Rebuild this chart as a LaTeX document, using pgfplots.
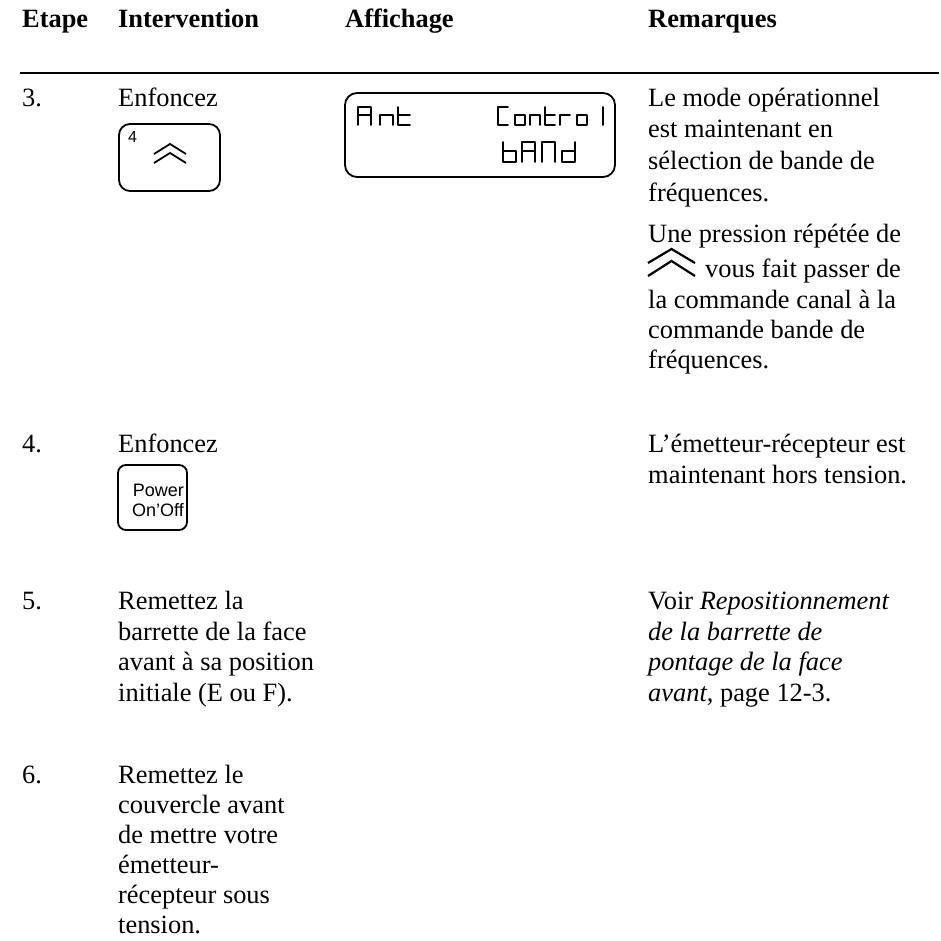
\documentclass[border=0pt]{standalone}
\usepackage{fontspec}
\setmainfont{Liberation Serif}
\newfontfamily\arial{Liberation Sans}
\usepackage{pgfplots}
\pgfplotsset{compat=1.18}
\tikzset{
  txt/.style={anchor=base west, inner sep=0pt, font=\fontsize{26.4}{30}\selectfont},
  hdr/.style={anchor=base west, inner sep=0pt, font=\fontsize{26.4}{30}\selectfont\bfseries},
  lcd/.style={line width=1.7pt, line cap=round, line join=round},
}
% LCD glyph paths
\def\lcdpathA{(\xa,\ya)--(\xa,\yt)--(\xb,\yt)--(\xb,\ya) (\xa,\ym)--(\xb,\ym)}
\def\lcdpathn{(\xa,\ya)--(\xa,\ym)--(\xb,\ym)--(\xb,\ya)}
\def\lcdpatht{(\xa,\yt)--(\xa,\ya)--(\xb,\ya) (\xa,\ym)--(\xb,\ym)}
\def\lcdpathC{(\xb,\yt)--(\xa,\yt)--(\xa,\ya)--(\xb,\ya)}
\def\lcdpatho{(\xa,\ya)--(\xa,\ym)--(\xb,\ym)--(\xb,\ya)--cycle}
\def\lcdpathr{(\xa,\ya)--(\xa,\ym)--(\xb,\ym)}
\def\lcdpathl{(\xa,\ya)--(\xa,\yt)}
\def\lcdpathb{(\xa,\yt)--(\xa,\ya)--(\xb,\ya)--(\xb,\ym)--(\xa,\ym)}
\def\lcdpathN{(\xa,\ya)--(\xa,\yt)--(\xb,\yt)--(\xb,\ya)}
\def\lcdpathd{(\xb,\yt)--(\xb,\ya)--(\xa,\ya)--(\xa,\ym)--(\xb,\ym)}
\newcommand\lcdglyph[3]{%
  \pgfmathsetmacro\xa{#2}\pgfmathsetmacro\xb{#2+\gw}%
  \pgfmathsetmacro\ya{#3}\pgfmathsetmacro\yt{#3-\gh}\pgfmathsetmacro\ym{#3-\gm}%
  \edef\tmp{\noexpand\draw[lcd] \csname lcdpath#1\endcsname;}\tmp}
\begin{document}
\begin{tikzpicture}
\begin{axis}[hide axis, scale only axis, width=939pt, height=941pt,
  xmin=0, xmax=939, ymin=0, ymax=941, y dir=reverse, clip=false]
\addplot[draw=none, mark=none] coordinates {(0,0) (939,941)};
\path (0,0) rectangle (939,941);
% header
\node[hdr] at (22,28) {Etape};
\node[hdr] at (118,28) {Intervention};
\node[hdr] at (345,28) {Affichage};
\node[hdr] at (648,28) {Remarques};
\draw[line width=2.5pt] (20,73) -- (939,73);
% row 3
\node[txt] at (22,107) {3.};
\node[txt] at (118,107) {Enfoncez};
\draw[line width=1.8pt, rounded corners=11pt] (119,124) rectangle (220,191);
\node[anchor=base west, inner sep=0pt, font=\arial\fontsize{16}{16}\selectfont] at (128,143) {4};
\draw[line width=1.8pt] (154,154)--(170,144)--(186,154) (154,163)--(170,153)--(186,163);
\draw[line width=1.8pt, rounded corners=12pt] (345,93) rectangle (615,177);
\def\gh{18}\def\gm{10}\def\gw{13}
\lcdglyph{A}{358}{125}
\lcdglyph{n}{380}{125}
\def\gw{12}
\lcdglyph{t}{398}{125}
\def\gw{10}
\lcdglyph{C}{498}{125}
\lcdglyph{o}{515}{125}
\lcdglyph{n}{530}{125}
\lcdglyph{t}{545}{125}
\lcdglyph{r}{560}{125}
\lcdglyph{o}{577}{125}
\lcdglyph{l}{603}{125}
\def\gh{20}\def\gm{11}\def\gw{13}
\lcdglyph{b}{503}{162}
\lcdglyph{A}{522}{162}
\lcdglyph{N}{542}{162}
\lcdglyph{d}{562}{162}
\node[txt] at (648,107) {Le mode opérationnel};
\node[txt] at (648,138) {est maintenant en};
\node[txt] at (648,170) {sélection de bande de};
\node[txt] at (648,202) {fréquences.};
\node[txt] at (648,243) {Une pression répétée de};
\draw[line width=2.2pt] (648,263)--(671.5,249)--(695,263) (648,276)--(671.5,261)--(695,276);
\node[txt] at (705,277) {vous fait passer de};
\node[txt] at (648,308) {la commande canal à la};
\node[txt] at (648,338) {commande bande de};
\node[txt] at (648,368) {fréquences.};
% row 4
\node[txt] at (22,452) {4.};
\node[txt] at (118,452) {Enfoncez};
\draw[line width=1.8pt, rounded corners=8pt] (118,465) rectangle (187,530);
\node[anchor=base east, inner sep=0pt, font=\arial\fontsize{18}{18}\selectfont] at (184,496) {Power};
\node[anchor=base east, inner sep=0pt, font=\arial\fontsize{18}{18}\selectfont] at (184,516) {On’Off};
\node[txt] at (648,452) {L’émetteur-récepteur est};
\node[txt] at (648,483) {maintenant hors tension.};
% row 5
\node[txt] at (22,609) {5.};
\node[txt] at (118,609) {Remettez la};
\node[txt] at (118,640) {barrette de la face};
\node[txt] at (118,670) {avant à sa position};
\node[txt] at (118,701) {initiale (E ou F).};
\node[txt] at (648,609) {Voir \textit{Repositionnement}};
\node[txt] at (648,640) {\textit{de la barrette de}};
\node[txt] at (648,670) {\textit{pontage de la face}};
\node[txt] at (648,701) {\textit{avant}, page 12-3.};
% row 6
\node[txt] at (22,783) {6.};
\node[txt] at (118,783) {Remettez le};
\node[txt] at (118,813) {couvercle avant};
\node[txt] at (118,843) {de mettre votre};
\node[txt] at (118,873) {émetteur-};
\node[txt] at (118,903) {récepteur sous};
\node[txt] at (118,933) {tension.};
\end{axis}
\end{tikzpicture}
\end{document}
